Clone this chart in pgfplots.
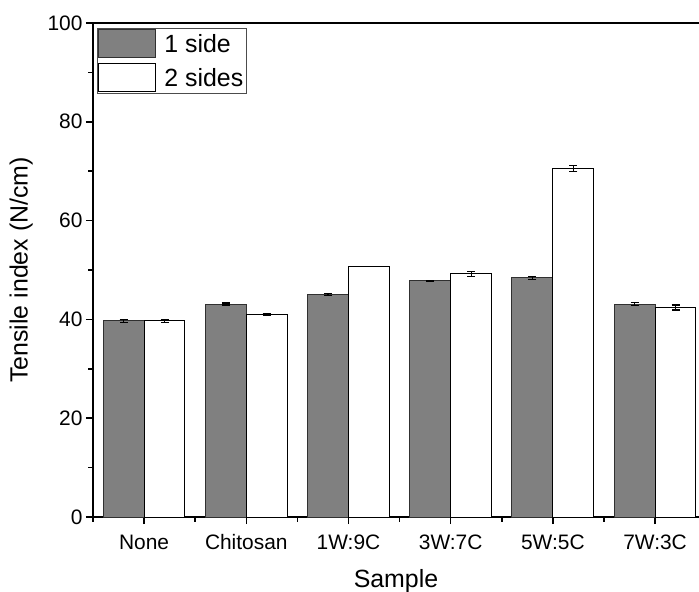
\documentclass[border=0pt]{standalone}
\usepackage{pgfplots}
\pgfplotsset{compat=1.18}
\usepackage{fontspec}
\setmainfont{Liberation Sans}
\definecolor{barg}{HTML}{808080}
\definecolor{bord}{HTML}{303030}
\pgfplotstableread{
x y e
0 39.7 0.3
1 43.1 0.2
2 45.1 0.2
3 47.8 0.15
4 48.4 0.3
5 43.05 0.3
}\oneside
\pgfplotstableread{
x y e
0 39.7 0.3
1 41.0 0.25
2 50.7 0.0
3 49.2 0.5
4 70.5 0.6
5 42.4 0.5
}\twosides
\begin{document}
\begin{tikzpicture}
\begin{axis}[
  name=ax,
  scale only axis, width=606bp, height=494bp,
  xmin=-0.5, xmax=5.43, ymin=0, ymax=100,
  axis x line=box, axis y line=left,
  axis line style={-, line width=1.5bp, black},
  xtick pos=bottom,
  tick align=outside,
  ybar,
  xtick={0,1,2,3,4,5},
  xticklabels={None,Chitosan,1W:9C,3W:7C,5W:5C,7W:3C},
  minor xtick={-0.5,0.5,1.5,2.5,3.5,4.5},
  ytick={0,20,40,60,80,100},
  minor ytick={10,30,50,70,90},
  major tick length=7bp, minor tick length=4.5bp,
  every tick/.style={line width=1.5bp, black},
  /pgf/number format/assume math mode=true,
  ticklabel style={font=\fontsize{21}{25}\selectfont, black},
  xticklabel style={yshift=-6bp, text height=15.5bp, text depth=4bp},
  label style={font=\fontsize{25}{30}\selectfont, black},
  xlabel={Sample}, ylabel={Tensile index (N/cm)},
  xlabel style={yshift=-10bp},
  ylabel style={yshift=8bp},
  legend style={at={(0.0066,0.99)}, anchor=north west, draw=black!70, line width=0.8bp,
    font=\fontsize{25}{28}\selectfont, inner sep=1bp, row sep=5bp,
    legend cell align=left,
    nodes={inner sep=2bp}},
  legend image code/.code={\draw[#1, line width=1bp] (0bp,-14bp) rectangle (57bp,14bp);},
]
\addplot[fill=barg, draw=bord, line width=1bp, bar width=0.4, bar shift=-0.2,
  error bars/.cd, y dir=both, y explicit,
  error bar style={line width=1.2bp, black},
  error mark options={rotate=90, mark size=4bp, line width=1.2bp, black}]
  table[x=x, y=y, y error=e] {\oneside};
\addplot[fill=white, draw=black, line width=1bp, bar width=0.4, bar shift=0.2,
  error bars/.cd, y dir=both, y explicit,
  error bar style={line width=1.2bp, black},
  error mark options={rotate=90, mark size=4bp, line width=1.2bp, black}]
  table[x=x, y=y, y error=e] {\twosides};
\legend{\hspace{6bp}1 side, \hspace{6bp}2 sides\hspace{4bp}}
\end{axis}
\pgfresetboundingbox
\path[use as bounding box] ([xshift=-93bp,yshift=-75bp]ax.south west) rectangle ([yshift=23bp]ax.north east);
\end{tikzpicture}
\end{document}
